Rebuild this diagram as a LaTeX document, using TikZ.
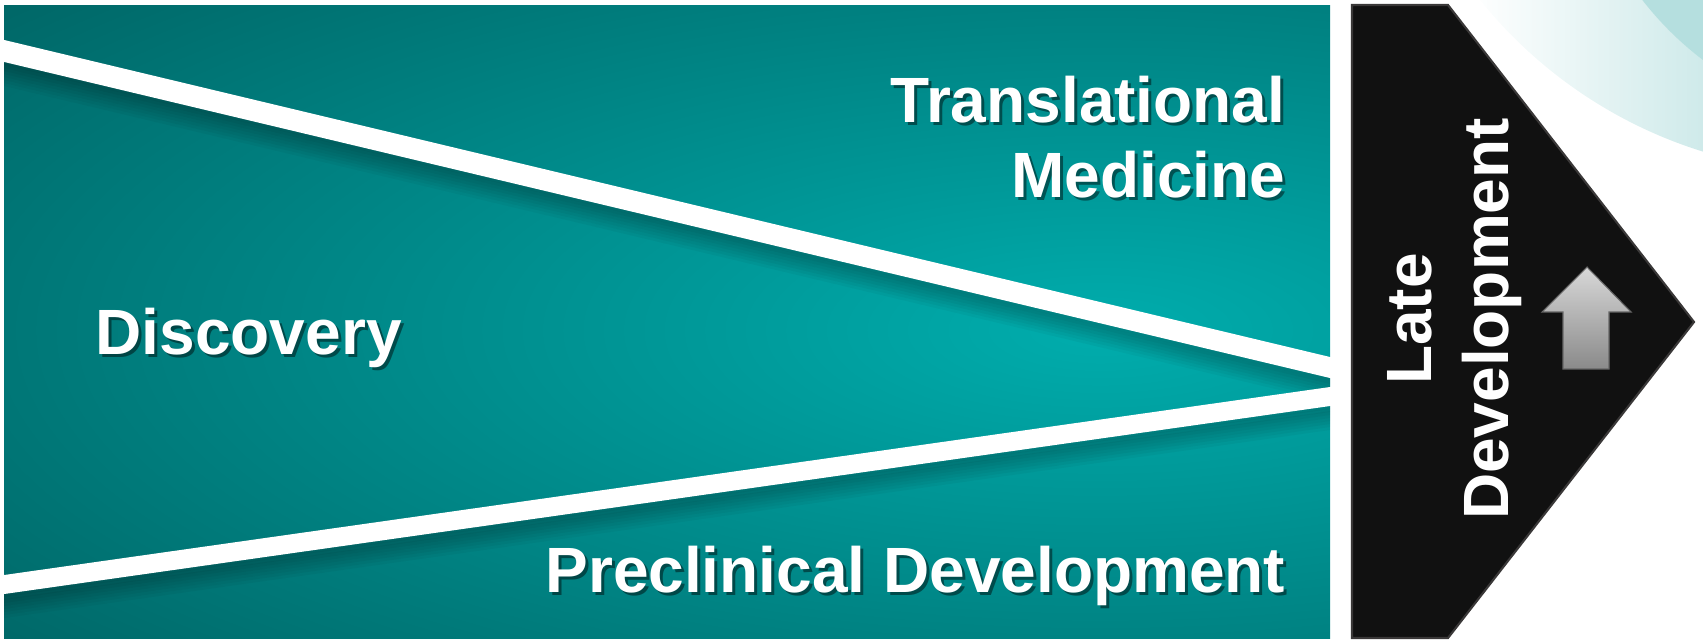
\documentclass[tikz,border=0pt]{standalone}
\usepackage{fontspec}
\setmainfont{Liberation Sans}
\definecolor{tealdark}{HTML}{005E5E}
\definecolor{teallight}{HTML}{00ADAD}
\definecolor{arclight}{HTML}{CFEAEA}
\definecolor{arcdark}{HTML}{B5DFDF}
\definecolor{latefill}{HTML}{111111}
\definecolor{lateedge}{HTML}{3A3838}
\definecolor{arrowtop}{HTML}{D8D8D8}
\definecolor{arrowmid}{HTML}{C6C6C6}
\definecolor{arrowbot}{HTML}{8A8A8A}
\begin{document}
\begin{tikzpicture}[x=0.01cm,y=-0.01cm,
  phase/.style={text=white,font=\fontsize{18.2}{21.8}\selectfont\bfseries,inner sep=0pt,anchor=base east},
  phase shadow/.style={phase,text=black,text opacity=0.45},
  late text/.style={text=white,font=\fontsize{18.2}{21.8}\selectfont\bfseries,inner sep=0pt,anchor=base,rotate=90},
  band/.style={fill=white},
  late/.style={fill=latefill,draw=lateedge,line width=0.6pt,line join=miter}]

\useasboundingbox (0,0) rectangle (1703,643);

% arcs top right
\begin{scope}
  \clip (0,0) rectangle (1703,643);
  \begin{scope}
    \clip (1840,-290) circle (4.62cm);
    \shade[left color=white,right color=arclight] (1470,0) rectangle (1703,170);
  \end{scope}
  \fill[arcdark] (1900,-200) circle (3.26cm);
\end{scope}

% teal body with shadows under the bands
\begin{scope}
  \clip (4,6) rectangle (1330,638);
  \shade[inner color=teallight,outer color=tealdark] (1100,330) ellipse [x radius=16cm,y radius=5.8cm];
  \foreach \k in {3,6,...,24} {
    \fill[black,opacity=0.035,shift={(0,\k)}] (0,39) -- (1340,359.4) -- (1340,380.4) -- (0,61) -- cycle;
    \fill[black,opacity=0.035,shift={(0,\k)}] (0,575.6) -- (1340,385.6) -- (1340,404.6) -- (0,594.6) -- cycle;
  }
\end{scope}

\fill[band] (0,39) -- (1340,359.4) -- (1340,380.4) -- (0,61) -- cycle;
\fill[band] (0,575.6) -- (1340,385.6) -- (1340,404.6) -- (0,594.6) -- cycle;

% phase labels
\node[phase shadow] (trans shadow) at (1289,126) {Translational};
\node[phase] (trans) at (1286,123) {Translational};
\node[phase shadow] (med shadow) at (1289,201) {Medicine};
\node[phase] (med) at (1286,198) {Medicine};
\node[phase shadow,anchor=base west] (disc shadow) at (98,358) {Discovery};
\node[phase,anchor=base west] (disc) at (95,355) {Discovery};
\node[phase shadow] (precl shadow) at (1289,595) {Preclinical Development};
\node[phase] (precl) at (1286,592) {Preclinical Development};

% late development pentagon
\draw[late] (1352,5) -- (1448,5) -- (1694,322) -- (1448,638) -- (1352,638) -- cycle;
\shade[top color=arrowtop,middle color=arrowmid,bottom color=arrowbot,draw=black!60,line width=0.3pt]
  (1587,267) -- (1631,312) -- (1609,312) -- (1609,369) -- (1563,369) -- (1563,312) -- (1542,312) -- cycle;
\node[late text] (late) at (1431,319) {Late};
\node[late text] (dev) at (1508,319) {Development};

\end{tikzpicture}
\end{document}
